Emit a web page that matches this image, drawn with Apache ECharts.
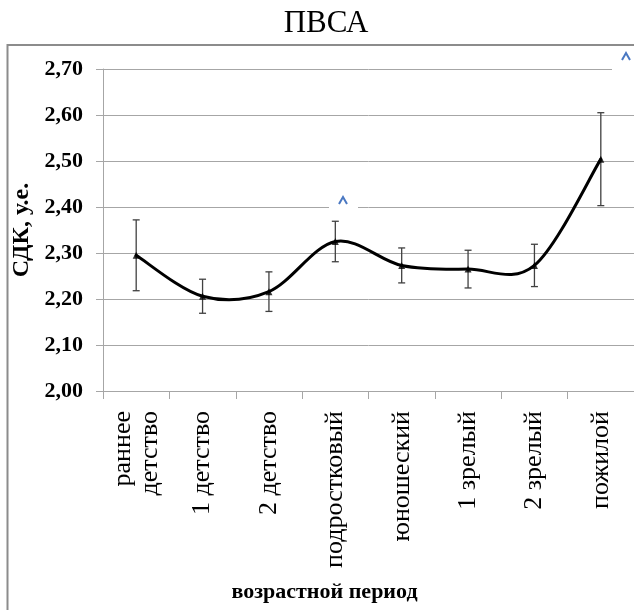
<!DOCTYPE html>
<html>
<head>
<meta charset="utf-8">
<script src="https://cdn.jsdelivr.net/npm/echarts@6/dist/echarts.min.js"></script>
<style>html,body{margin:0;padding:0;background:#fff;}#c{width:634px;height:610px;}</style>
</head>
<body>
<div id="c"></div>
<script>
var categories = ['раннее\nдетство', '1 детство', '2 детство', 'подростковый', 'юношеский', '1 зрелый', '2 зрелый', 'пожилой'];
var values = [2.295, 2.206, 2.216, 2.325, 2.273, 2.265, 2.273, 2.504];
var errors = [0.077, 0.037, 0.043, 0.044, 0.038, 0.041, 0.046, 0.101];
var yTicks = [2.0, 2.1, 2.2, 2.3, 2.4, 2.5, 2.6, 2.7];

var serif = '"Liberation Serif", "Times New Roman", serif';
var chart = echarts.init(document.getElementById('c'));
var errData = values.map(function (v, i) { return [i, v - errors[i], v + errors[i]]; });
var segData = values.slice(0, values.length - 1).map(function (v, i) { return [i, v]; });

chart.setOption({
  animation: false,
  backgroundColor: '#ffffff',
  title: {
    text: 'ПВСА', left: 321, top: 3, textAlign: 'center',
    textStyle: { fontFamily: serif, fontSize: 31, fontWeight: 'normal', color: '#000' }
  },
  grid: { left: 103, top: 69, width: 534, height: 322, containLabel: false },
  xAxis: {
    type: 'category', data: categories, boundaryGap: true,
    axisLine: { show: true, lineStyle: { color: '#a6a6a6', width: 1 } },
    axisTick: { show: true, length: 8, lineStyle: { color: '#a6a6a6' } },
    axisLabel: { rotate: 90, margin: 20, fontFamily: serif, fontSize: 26, lineHeight: 27, color: '#000', interval: 0 },
    name: 'возрастной период', nameLocation: 'middle', nameGap: 190,
    nameTextStyle: { fontFamily: serif, fontSize: 22, fontWeight: 'bold', color: '#000', padding: [0, 88, 0, 0] }
  },
  yAxis: {
    type: 'value', min: yTicks[0], max: yTicks[yTicks.length - 1], interval: 0.1,
    axisLine: { show: true, lineStyle: { color: '#a6a6a6', width: 1 } },
    axisTick: { show: true, length: 7, lineStyle: { color: '#a6a6a6' } },
    splitLine: { show: true, lineStyle: { color: '#a6a6a6', width: 1 } },
    axisLabel: {
      margin: 20, fontFamily: serif, fontSize: 22, fontWeight: 'bold', color: '#000',
      formatter: function (v) { return v.toFixed(2).replace('.', ','); }
    },
    name: 'СДК, у.е.', nameLocation: 'middle', nameGap: 63, nameRotate: 90,
    nameTextStyle: { fontFamily: serif, fontSize: 24, fontWeight: 'bold', color: '#000' }
  },
  series: [
    {
      type: 'custom', data: segData, z: 3,
      renderItem: function (params, api) {
        var i = params.dataIndex;
        var n = values.length;
        function P(k) {
          k = Math.max(0, Math.min(n - 1, k));
          return api.coord([k, values[k]]);
        }
        var p0 = P(i - 1), p1 = P(i), p2 = P(i + 1), p3 = P(i + 2);
        return {
          type: 'bezierCurve',
          shape: {
            x1: p1[0], y1: p1[1], x2: p2[0], y2: p2[1],
            cpx1: p1[0] + (p2[0] - p0[0]) / 6, cpy1: p1[1] + (p2[1] - p0[1]) / 6,
            cpx2: p2[0] - (p3[0] - p1[0]) / 6, cpy2: p2[1] - (p3[1] - p1[1]) / 6
          },
          style: { stroke: '#000', lineWidth: 3, fill: null, lineCap: 'round' }
        };
      }
    },
    {
      type: 'scatter', data: values, symbol: 'triangle', symbolSize: 7,
      itemStyle: { color: '#000' }, z: 4
    },
    {
      type: 'custom', data: errData, z: 2,
      renderItem: function (params, api) {
        var x = api.value(0);
        var lo = api.coord([x, api.value(1)]);
        var hi = api.coord([x, api.value(2)]);
        var w = 3.5;
        var st = { stroke: '#404040', lineWidth: 1.3 };
        return {
          type: 'group',
          children: [
            { type: 'line', shape: { x1: hi[0], y1: hi[1], x2: lo[0], y2: lo[1] }, style: st },
            { type: 'line', shape: { x1: hi[0] - w, y1: hi[1], x2: hi[0] + w, y2: hi[1] }, style: st },
            { type: 'line', shape: { x1: lo[0] - w, y1: lo[1], x2: lo[0] + w, y2: lo[1] }, style: st }
          ]
        };
      }
    }
  ],
  graphic: [
    { type: 'rect', shape: { x: 7.5, y: 45, width: 700, height: 700 }, style: { fill: 'none', stroke: '#8c8c8c', lineWidth: 2 }, z: 100 },
    { type: 'rect', shape: { x: 329, y: 195, width: 29, height: 14 }, style: { fill: '#fff' }, z: 100 },
    { type: 'polyline', shape: { points: [[339, 204], [343, 197], [347, 204]] }, style: { stroke: '#4a78c2', lineWidth: 2, fill: 'none' }, z: 101 },
    { type: 'rect', shape: { x: 612, y: 50, width: 22, height: 22 }, style: { fill: '#fff' }, z: 100 },
    { type: 'polyline', shape: { points: [[622, 60], [626, 53], [630, 60]] }, style: { stroke: '#4a78c2', lineWidth: 2, fill: 'none' }, z: 101 }
  ]
});
</script>
</body>
</html>
